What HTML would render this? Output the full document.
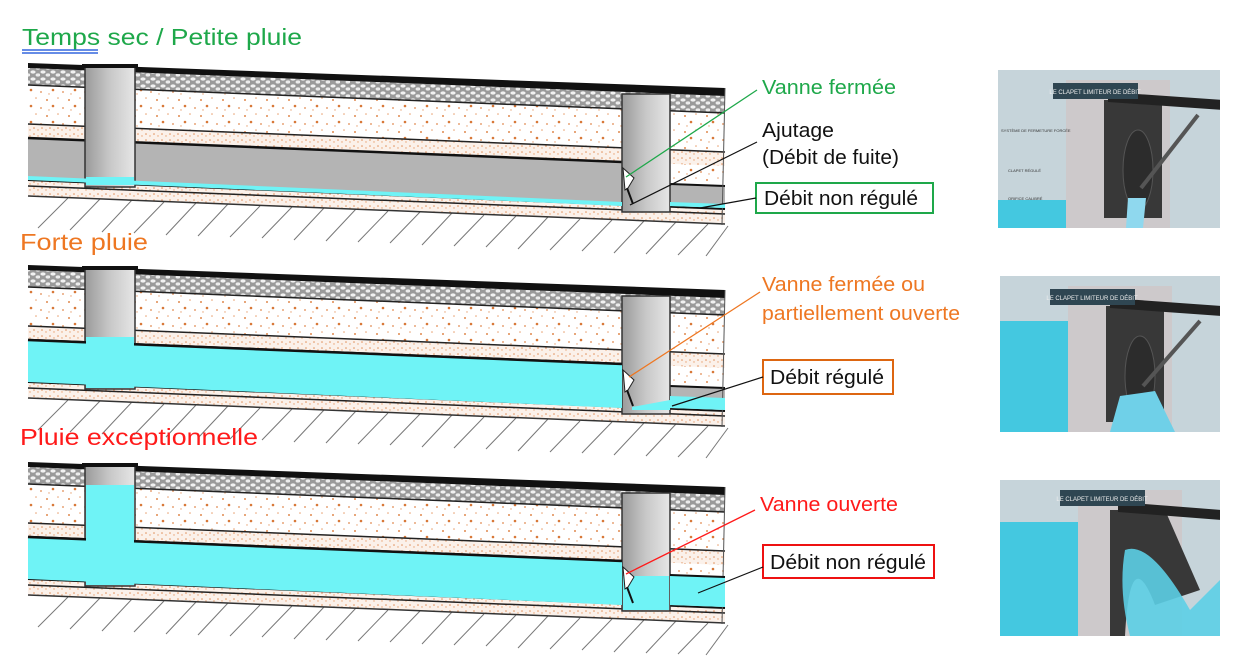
<!DOCTYPE html>
<html><head><meta charset="utf-8"><style>
html,body{margin:0;padding:0;background:#fff;}
svg{display:block;font-family:"Liberation Sans",sans-serif;}
</style></head><body>
<svg width="1256" height="668" viewBox="0 0 1256 668" xmlns="http://www.w3.org/2000/svg">
<defs>
<clipPath id="pc1"><rect width="222" height="158"/></clipPath>
<clipPath id="pc2"><rect width="220" height="156"/></clipPath>
<pattern id="dots" width="22" height="16" patternUnits="userSpaceOnUse">
<rect width="22" height="16" fill="#fff"/>
<circle cx="3" cy="4" r="1" fill="#e08a50"/><circle cx="14" cy="2" r="0.8" fill="#e8a070"/>
<circle cx="9" cy="10" r="1.3" fill="#d87838"/><circle cx="19" cy="12" r="0.9" fill="#e08a50"/>
<circle cx="5" cy="14" r="0.7" fill="#e8a070"/>
</pattern>
<pattern id="dense" width="8" height="6" patternUnits="userSpaceOnUse">
<rect width="8" height="6" fill="#fbf1ea"/>
<circle cx="2" cy="2" r="0.8" fill="#e0905a"/><circle cx="6" cy="4" r="0.7" fill="#e8a070"/>
</pattern>
<pattern id="gravel" width="10" height="7" patternUnits="userSpaceOnUse">
<rect width="10" height="7" fill="#9a9a9a"/>
<ellipse cx="3" cy="2" rx="2.6" ry="1.6" fill="#f2f2f2"/><ellipse cx="8" cy="5" rx="2.4" ry="1.6" fill="#ececec"/>
</pattern>
<linearGradient id="mh" x1="0" x2="1"><stop offset="0" stop-color="#9a9a9a"/><stop offset="0.5" stop-color="#c8c8c8"/><stop offset="1" stop-color="#e6e6e6"/></linearGradient>
<g id="base">
<g stroke="#777" stroke-width="1">
<line x1="68" y1="198" x2="38" y2="228"/><line x1="100" y1="199" x2="70" y2="230"/><line x1="132" y1="200" x2="102" y2="232"/><line x1="164" y1="202" x2="134" y2="233"/><line x1="196" y1="203" x2="166" y2="235"/><line x1="228" y1="204" x2="198" y2="236"/><line x1="260" y1="206" x2="230" y2="237"/><line x1="292" y1="207" x2="262" y2="238"/><line x1="324" y1="208" x2="294" y2="240"/><line x1="356" y1="209" x2="326" y2="241"/><line x1="388" y1="211" x2="358" y2="242"/><line x1="420" y1="212" x2="390" y2="243"/><line x1="452" y1="213" x2="422" y2="245"/><line x1="484" y1="215" x2="454" y2="246"/><line x1="516" y1="216" x2="486" y2="247"/><line x1="548" y1="217" x2="518" y2="249"/><line x1="580" y1="219" x2="550" y2="250"/><line x1="612" y1="220" x2="582" y2="251"/><line x1="644" y1="221" x2="614" y2="253"/><line x1="676" y1="222" x2="646" y2="254"/><line x1="708" y1="224" x2="678" y2="255"/><line x1="728" y1="226" x2="706" y2="256"/>
</g>
<polygon points="28,180 725,208 725,224 28,196" fill="url(#dense)"/>
<line x1="28" y1="186" x2="725" y2="214" stroke="#222" stroke-width="1.5"/>
<line x1="28" y1="196" x2="725" y2="224" stroke="#333" stroke-width="1.5"/>
<polygon points="28,85 725,113 725,208 28,180" fill="url(#dots)"/>
<polygon points="28,124 725,152 725,166 28,138" fill="url(#dense)"/>
<line x1="28" y1="124" x2="725" y2="152" stroke="#222" stroke-width="1.5"/>
<polygon points="28,68 725,96 725,113 28,85" fill="url(#gravel)"/>
<line x1="28" y1="85" x2="725" y2="113" stroke="#222" stroke-width="1.5"/>
<polygon points="28,63 725,88 725,96 28,68" fill="#111"/>
<polygon points="28,138 622,162 622,206 28,180" fill="#b4b4b4"/>
<line x1="28" y1="138" x2="622" y2="162" stroke="#111" stroke-width="2.5"/>
<line x1="28" y1="180" x2="725" y2="209" stroke="#111" stroke-width="2"/>
<polygon points="670,184 725,186 725,208 670,206" fill="#b4b4b4"/>
<line x1="670" y1="184" x2="725" y2="186" stroke="#111" stroke-width="2"/>
<rect x="85" y="66" width="50" height="121" fill="url(#mh)" stroke="#333" stroke-width="1.5"/>
<rect x="82" y="64" width="56" height="4" fill="#111"/>
<rect x="622" y="94" width="48" height="118" fill="url(#mh)" stroke="#333" stroke-width="1.5"/>
<line x1="725" y1="88" x2="722" y2="225" stroke="#555" stroke-width="1"/>
</g>
<g id="gate">
<polygon points="623,168 634,178 628,188 625,190" fill="#fff" stroke="#222" stroke-width="1"/>
<line x1="627" y1="188" x2="633" y2="204" stroke="#111" stroke-width="2"/>
</g>
</defs>

<use href="#base"/>
<polygon points="28,176 622,202 622,206 28,180" fill="#6ff3f6"/>
<polygon points="670,202 725,204 725,208 670,206" fill="#6ff3f6"/>
<rect x="86" y="177" width="48" height="8" fill="#6ff3f6"/>
<use href="#gate"/>

<g transform="translate(0,202)">
<use href="#base"/>
<polygon points="28,138 622,162 622,206 28,180" fill="#6ff3f6"/>
<line x1="28" y1="138" x2="622" y2="162" stroke="#111" stroke-width="2.5"/>
<rect x="86" y="135" width="48" height="51" fill="#6ff3f6"/>
<polygon points="632,205 670,198 670,208 632,208" fill="#6ff3f6"/>
<polygon points="670,194 725,196 725,208 670,206" fill="#6ff3f6"/>
<use href="#gate"/>
</g>

<g transform="translate(0,399)">
<use href="#base"/>
<polygon points="28,138 622,162 622,206 28,180" fill="#6ff3f6"/>
<line x1="28" y1="138" x2="622" y2="162" stroke="#111" stroke-width="2.5"/>
<rect x="86" y="86" width="48" height="100" fill="#6ff3f6"/>
<rect x="623" y="177" width="46" height="34" fill="#6ff3f6"/>
<polygon points="670,176 725,178 725,208 670,206" fill="#6ff3f6"/>
<line x1="670" y1="176" x2="725" y2="178" stroke="#111" stroke-width="2"/>
<use href="#gate"/>
</g>

<g lengthAdjust="spacingAndGlyphs">
<text x="22" y="45" font-size="23" fill="#1ea84a" textLength="280" lengthAdjust="spacingAndGlyphs">Temps sec / Petite pluie</text>
<text x="20" y="250" font-size="23" fill="#ee7722" textLength="128" lengthAdjust="spacingAndGlyphs">Forte pluie</text>
<text x="20" y="445" font-size="23" fill="#ff1a1a" textLength="238" lengthAdjust="spacingAndGlyphs">Pluie exceptionnelle</text>
</g>
<line x1="22" y1="50" x2="98" y2="50" stroke="#3366dd" stroke-width="1.5"/>
<line x1="22" y1="53" x2="98" y2="53" stroke="#3366dd" stroke-width="1.5"/>

<line x1="757" y1="90" x2="626" y2="177" stroke="#1ea84a" stroke-width="1.3"/>
<text x="762" y="94" font-size="20" fill="#1ea84a" textLength="134" lengthAdjust="spacingAndGlyphs">Vanne fermée</text>
<text x="762" y="137" font-size="20" fill="#111" textLength="72" lengthAdjust="spacingAndGlyphs">Ajutage</text>
<text x="762" y="164" font-size="20" fill="#111" textLength="137" lengthAdjust="spacingAndGlyphs">(Débit de fuite)</text>
<line x1="757" y1="142" x2="630" y2="205" stroke="#111" stroke-width="1.2"/>
<rect x="756" y="183" width="177" height="30" fill="#fff" stroke="#1ea84a" stroke-width="2"/>
<text x="764" y="205" font-size="20" fill="#111" textLength="154" lengthAdjust="spacingAndGlyphs">Débit non régulé</text>
<line x1="756" y1="198" x2="700" y2="208" stroke="#111" stroke-width="1.2"/>

<text x="762" y="291" font-size="20" fill="#ee7722" textLength="163" lengthAdjust="spacingAndGlyphs">Vanne fermée ou</text>
<text x="762" y="320" font-size="20" fill="#ee7722" textLength="198" lengthAdjust="spacingAndGlyphs">partiellement ouverte</text>
<line x1="760" y1="292" x2="629" y2="377" stroke="#ee7722" stroke-width="1.3"/>
<rect x="763" y="360" width="130" height="34" fill="#fff" stroke="#dd6611" stroke-width="2"/>
<text x="770" y="384" font-size="20" fill="#111" textLength="114" lengthAdjust="spacingAndGlyphs">Débit régulé</text>
<line x1="763" y1="377" x2="672" y2="406" stroke="#111" stroke-width="1.2"/>

<text x="760" y="511" font-size="20" fill="#ff1a1a" textLength="138" lengthAdjust="spacingAndGlyphs">Vanne ouverte</text>
<line x1="755" y1="510" x2="626" y2="574" stroke="#ff1a1a" stroke-width="1.3"/>
<rect x="763" y="545" width="171" height="33" fill="#fff" stroke="#ee1111" stroke-width="2"/>
<text x="770" y="569" font-size="20" fill="#111" textLength="156" lengthAdjust="spacingAndGlyphs">Débit non régulé</text>
<line x1="763" y1="567" x2="698" y2="593" stroke="#111" stroke-width="1.2"/>

<g transform="translate(998,70)" clip-path="url(#pc1)">
<rect width="222" height="158" fill="#c6d4da"/>
<rect x="68" y="10" width="104" height="148" fill="#cdc9cb"/>
<rect x="0" y="130" width="68" height="28" fill="#44c8e0"/>
<rect x="106" y="30" width="58" height="118" fill="#383838"/>
<polygon points="110,22 225,30 225,40 110,32" fill="#222"/>
<rect x="55" y="13" width="85" height="16" fill="#2f4652"/>
<text x="97" y="24" font-size="6" fill="#eee" text-anchor="middle">LE CLAPET LIMITEUR DE DÉBIT</text>
<ellipse cx="140" cy="100" rx="15" ry="40" fill="#2c2c2c" stroke="#555"/>
<line x1="143" y1="118" x2="200" y2="45" stroke="#555" stroke-width="4"/>
<polygon points="130,128 148,128 145,158 128,158" fill="#8fd8ee"/>
<text x="3" y="62" font-size="4" fill="#333">SYSTÈME DE FERMETURE FORCÉE</text>
<text x="10" y="102" font-size="4" fill="#333">CLAPET RÉGULÉ</text>
<text x="10" y="130" font-size="4" fill="#333">ORIFICE CALIBRÉ</text>
</g>
<g transform="translate(1000,276)" clip-path="url(#pc2)">
<rect width="220" height="156" fill="#c6d4da"/>
<rect x="68" y="10" width="104" height="146" fill="#cdc9cb"/>
<rect x="0" y="45" width="68" height="111" fill="#44c8e0"/>
<rect x="106" y="30" width="58" height="116" fill="#383838"/>
<polygon points="110,22 222,30 222,40 110,32" fill="#222"/>
<rect x="50" y="13" width="85" height="16" fill="#2f4652"/>
<text x="92" y="24" font-size="6" fill="#eee" text-anchor="middle">LE CLAPET LIMITEUR DE DÉBIT</text>
<ellipse cx="140" cy="100" rx="15" ry="40" fill="#2c2c2c" stroke="#555"/>
<line x1="143" y1="110" x2="200" y2="45" stroke="#555" stroke-width="4"/>
<polygon points="120,120 155,115 175,156 110,156" fill="#6fd0e8"/>
</g>
<g transform="translate(1000,480)" clip-path="url(#pc2)">
<rect width="220" height="156" fill="#c6d4da"/>
<rect x="78" y="10" width="104" height="146" fill="#cdc9cb"/>
<rect x="0" y="42" width="78" height="114" fill="#44c8e0"/>
<path d="M110,30 L165,30 L200,110 L155,125 Q130,60 125,156 L110,156 Z" fill="#383838"/>
<polygon points="118,22 222,30 222,40 118,32" fill="#222"/>
<path d="M125,70 Q150,60 190,130 L220,100 L220,156 L130,156 Q118,110 125,70 Z" fill="#5ccfe6" opacity="0.9"/>
<rect x="60" y="10" width="85" height="16" fill="#2f4652"/>
<text x="102" y="21" font-size="6" fill="#eee" text-anchor="middle">LE CLAPET LIMITEUR DE DÉBIT</text>
</g>
</svg>
</body></html>
